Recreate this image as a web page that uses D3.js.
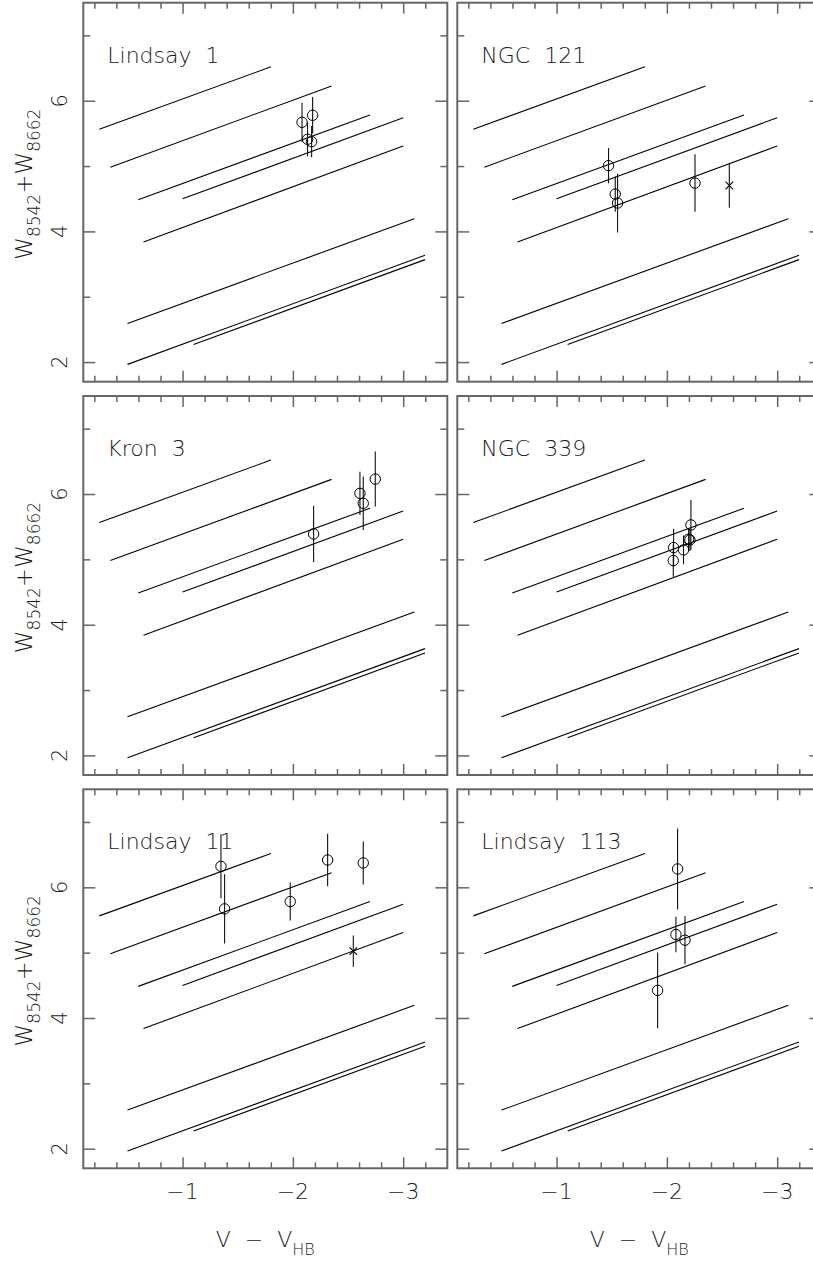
<!DOCTYPE html>
<html>
<head>
<meta charset="utf-8">
<script src="https://cdn.jsdelivr.net/npm/d3@7"></script>
<style>
  body { margin: 0; background: #fff; }
  svg text { font-family: "DejaVu Sans", sans-serif; font-weight: 200; fill: #1a1a1a; white-space: pre; }
</style>
</head>
<body>
<svg id="chart"></svg>
<script>
// panel names, left to right, top to bottom
var clusters = ["Lindsay  1", "NGC  121", "Kron  3", "NGC  339", "Lindsay  11", "Lindsay  113"];

// calibration lines (same in every panel): x1, y1, x2, y2
var lineX1 = [-0.245, -0.345, -0.598, -1.0, -0.646, -0.501, -0.501, -1.1];
var lineY1 = [5.563, 4.983, 4.484, 4.499, 3.838, 2.591, 1.965, 2.270];
var lineX2 = [-1.801, -2.351, -2.699, -3.0, -3.0, -3.101, -3.198, -3.198];
var lineY2 = [6.519, 6.224, 5.782, 5.740, 5.308, 4.194, 3.634, 3.568];

// stars per cluster: V - V_HB, W8542+W8662, error, marker ("o" circle, "x" cross)
var starX = [
  [-2.083, -2.179, -2.133, -2.170],
  [-1.471, -1.532, -1.553, -2.255, -2.566],
  [-2.188, -2.608, -2.638, -2.747],
  [-2.058, -2.061, -2.151, -2.197, -2.209, -2.218],
  [-1.348, -1.381, -1.976, -2.315, -2.638, -2.548],
  [-2.097, -2.082, -2.164, -1.916]
];
var starW = [
  [5.670, 5.777, 5.410, 5.374],
  [5.006, 4.571, 4.434, 4.739, 4.702],
  [5.389, 6.010, 5.858, 6.229],
  [4.982, 5.180, 5.145, 5.308, 5.298, 5.527],
  [6.321, 5.670, 5.782, 6.418, 6.373, 5.023],
  [6.281, 5.278, 5.191, 4.423]
];
var starErr = [
  [0.30, 0.28, 0.26, 0.24],
  [0.27, 0.27, 0.45, 0.44, 0.34],
  [0.43, 0.33, 0.41, 0.42],
  [0.25, 0.29, 0.22, 0.17, 0.17, 0.38],
  [0.49, 0.53, 0.29, 0.40, 0.33, 0.24],
  [0.62, 0.27, 0.37, 0.58]
];
var starMark = [
  ["o", "o", "o", "o"],
  ["o", "o", "o", "o", "x"],
  ["o", "o", "o", "o"],
  ["o", "o", "o", "o", "o", "o"],
  ["o", "o", "o", "o", "o", "x"],
  ["o", "o", "o", "o"]
];

var xMajor = [-1, -2, -3];
var yMajor = [2, 4, 6];

var width = 364, height = 379;
var colX = [83.3, 457.3];
var rowY = [2.7, 396, 789.3];

var svg = d3.select("#chart")
  .attr("width", 813)
  .attr("height", 1262);

var x = d3.scaleLinear().domain([-0.1, -3.4]).range([0, width]);
var y = d3.scaleLinear().domain([1.7, 7.5]).range([height, 0]);

var xMinor = d3.range(-0.2, -3.3, -0.2).filter(function(v) {
  return Math.abs(v - Math.round(v)) > 0.01;
});
var yMinor = [3, 5, 7];

var frameColor = "#666";

clusters.forEach(function(name, i) {
  var col = i % 2, row = Math.floor(i / 2);
  var g = svg.append("g")
    .attr("transform", "translate(" + colX[col] + "," + rowY[row] + ")");

  // ticks on all four sides
  var axes = [
    d3.axisBottom(x).tickValues(xMajor).tickSize(11),
    d3.axisBottom(x).tickValues(xMinor).tickSize(6),
    d3.axisTop(x).tickValues(xMajor).tickSize(11),
    d3.axisTop(x).tickValues(xMinor).tickSize(6),
    d3.axisRight(y).tickValues(yMajor).tickSize(12),
    d3.axisRight(y).tickValues(yMinor).tickSize(7),
    d3.axisLeft(y).tickValues(yMajor).tickSize(12),
    d3.axisLeft(y).tickValues(yMinor).tickSize(7)
  ];
  var shifts = ["translate(0,0)", "translate(0,0)",
                "translate(0," + height + ")", "translate(0," + height + ")",
                "translate(0,0)", "translate(0,0)",
                "translate(" + width + ",0)", "translate(" + width + ",0)"];
  axes.forEach(function(ax, k) {
    var a = g.append("g")
      .attr("transform", shifts[k])
      .call(ax.tickFormat(""));
    a.select(".domain").remove();
    a.selectAll("line").attr("stroke", frameColor).attr("stroke-width", 1.5);
  });

  g.append("rect")
    .attr("width", width)
    .attr("height", height)
    .attr("fill", "none")
    .attr("stroke", frameColor)
    .attr("stroke-width", 2);

  // calibration lines
  g.selectAll(".cal")
    .data(lineX1)
    .enter()
    .append("line")
    .attr("x1", function(d) { return x(d); })
    .attr("y1", function(d, j) { return y(lineY1[j]); })
    .attr("x2", function(d, j) { return x(lineX2[j]); })
    .attr("y2", function(d, j) { return y(lineY2[j]); })
    .attr("stroke", "#000")
    .attr("stroke-width", 1.1);

  var stars = starX[i].map(function(v, j) {
    return {x: v, w: starW[i][j], e: starErr[i][j], m: starMark[i][j]};
  });

  // error bars
  g.selectAll(".err")
    .data(stars)
    .enter()
    .append("line")
    .attr("x1", function(d) { return x(d.x); })
    .attr("x2", function(d) { return x(d.x); })
    .attr("y1", function(d) { return y(d.w + d.e); })
    .attr("y2", function(d) { return y(d.w - d.e); })
    .attr("stroke", "#111")
    .attr("stroke-width", 1.1);

  g.selectAll(".circ")
    .data(stars.filter(function(d) { return d.m == "o"; }))
    .enter()
    .append("circle")
    .attr("cx", function(d) { return x(d.x); })
    .attr("cy", function(d) { return y(d.w); })
    .attr("r", 5.2)
    .attr("fill", "none")
    .attr("stroke", "#000")
    .attr("stroke-width", 1);

  var crosses = stars.filter(function(d) { return d.m == "x"; });
  [[-1, -1, 1, 1], [-1, 1, 1, -1]].forEach(function(s) {
    g.selectAll(".cross" + s[1])
      .data(crosses)
      .enter()
      .append("line")
      .attr("x1", function(d) { return x(d.x) + 3.8 * s[0]; })
      .attr("y1", function(d) { return y(d.w) + 3.8 * s[1]; })
      .attr("x2", function(d) { return x(d.x) + 3.8 * s[2]; })
      .attr("y2", function(d) { return y(d.w) + 3.8 * s[3]; })
      .attr("stroke", "#000")
      .attr("stroke-width", 1.1);
  });

  g.append("text")
    .attr("x", 24)
    .attr("y", 60)
    .style("font-size", "22px")
    .text(name);

  if (col == 0) {
    g.selectAll(".ylab")
      .data(yMajor)
      .enter()
      .append("text")
      .attr("transform", function(d) { return "translate(-16," + y(d) + ") rotate(-90)"; })
      .attr("text-anchor", "middle")
      .style("font-size", "21px")
      .text(function(d) { return d; });

    var yl = g.append("text")
      .attr("transform", "translate(-51," + (height / 2 - 8) + ") rotate(-90)")
      .attr("text-anchor", "middle")
      .style("font-size", "23px");
    yl.append("tspan").text("W");
    yl.append("tspan").attr("dy", 8).style("font-size", "17px").text("8542");
    yl.append("tspan").attr("dy", -8).text("+W");
    yl.append("tspan").attr("dy", 8).style("font-size", "17px").text("8662");
  }

  if (row == 2) {
    g.selectAll(".xlab")
      .data(xMajor)
      .enter()
      .append("text")
      .attr("x", function(d) { return x(d); })
      .attr("y", height + 31)
      .attr("text-anchor", "middle")
      .style("font-size", "22px")
      .text(function(d) { return "\u2212" + Math.abs(d); });

    var xl = g.append("text")
      .attr("x", width / 2)
      .attr("y", height + 79)
      .attr("text-anchor", "middle")
      .style("font-size", "22px");
    xl.append("tspan").text("V  \u2212  V");
    xl.append("tspan").attr("dy", 8).style("font-size", "16px").text("HB");
  }
});
</script>
</body>
</html>
